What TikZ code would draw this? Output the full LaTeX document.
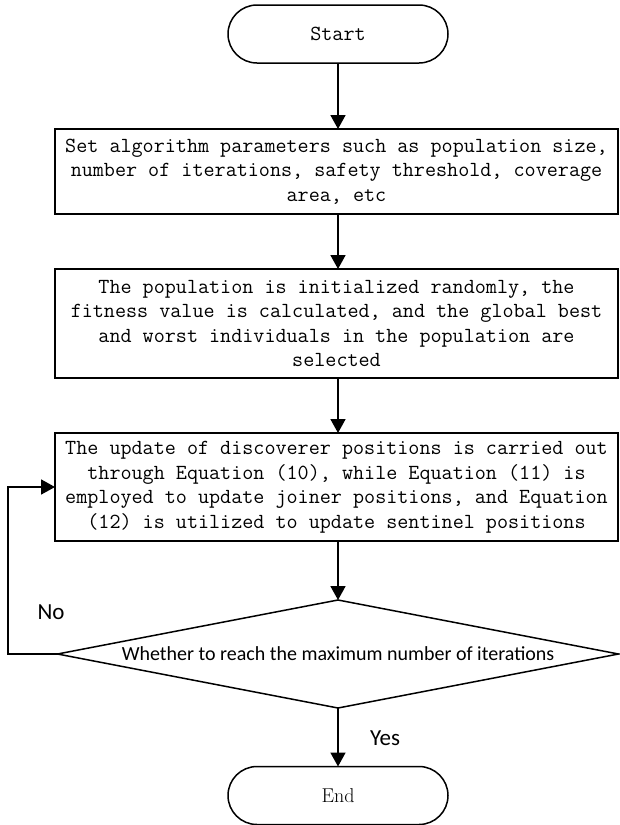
\documentclass[tikz,border=0pt]{standalone}
\usepackage{fontspec}
\newfontfamily\carl{Carlito}
\usetikzlibrary{shapes.misc,shapes.geometric,arrows.meta}
\begin{document}
\begin{tikzpicture}[x=1pt,y=-1pt,
  every node/.style={inner sep=0pt,outer sep=0pt},
  term/.style={draw,line width=1.5pt,rounded rectangle,minimum width=220pt,minimum height=58pt,font=\fontsize{21.5}{24.5}\selectfont\ttfamily},
  procbox/.style={draw,line width=1.5pt,rectangle,minimum width=563pt,align=center,font=\fontsize{21.5}{24.5}\selectfont\ttfamily},
  decide/.style={draw,line width=1.5pt,diamond,shape aspect=5.2,minimum width=561pt,minimum height=108pt,font=\fontsize{20}{24}\selectfont\carl},
  lbl/.style={font=\fontsize{23}{27}\selectfont\carl},
  flow/.style={line width=1.8pt,-{Triangle[width=15pt,length=14pt]}}
]
\useasboundingbox (0,0) rectangle (619,825);
\node[term] (start) at (338,34) {Start};
\node[procbox,minimum height=85pt] (b1) at (336.5,171.5) {Set algorithm parameters such as population size,\\number of iterations, safety threshold, coverage\\area, etc};
\node[procbox,minimum height=109pt] (b2) at (336.5,323.5) {The population is initialized randomly, the\\fitness value is calculated, and the global best\\and worst individuals in the population are\\selected};
\node[procbox,minimum height=108pt] (b3) at (336.5,487) {The update of discoverer positions is carried out\\through Equation (10), while Equation (11) is\\employed to update joiner positions, and Equation\\(12) is utilized to update sentinel positions};
\node[decide] (dec) at (338,654) {Whether to reach the maximum number of iterations};
\node[term,font=\fontsize{20}{24}\selectfont\rmfamily] (end) at (338,795.5) {End};
\node[lbl] (no) at (51,612) {No};
\node[lbl] (yes) at (385,738) {Yes};
\coordinate (lp) at (8,654);
\draw[flow] (start.south -| 338,0) -- (b1.north -| 338,0);
\draw[flow] (b1.south -| 338,0) -- (b2.north -| 338,0);
\draw[flow] (b2.south -| 338,0) -- (b3.north -| 338,0);
\draw[flow] (b3.south -| 338,0) -- (dec.north);
\draw[flow] (dec.south) -- (end.north);
\draw[flow] (dec.west) -- (lp) |- (b3.west);
\end{tikzpicture}
\end{document}
